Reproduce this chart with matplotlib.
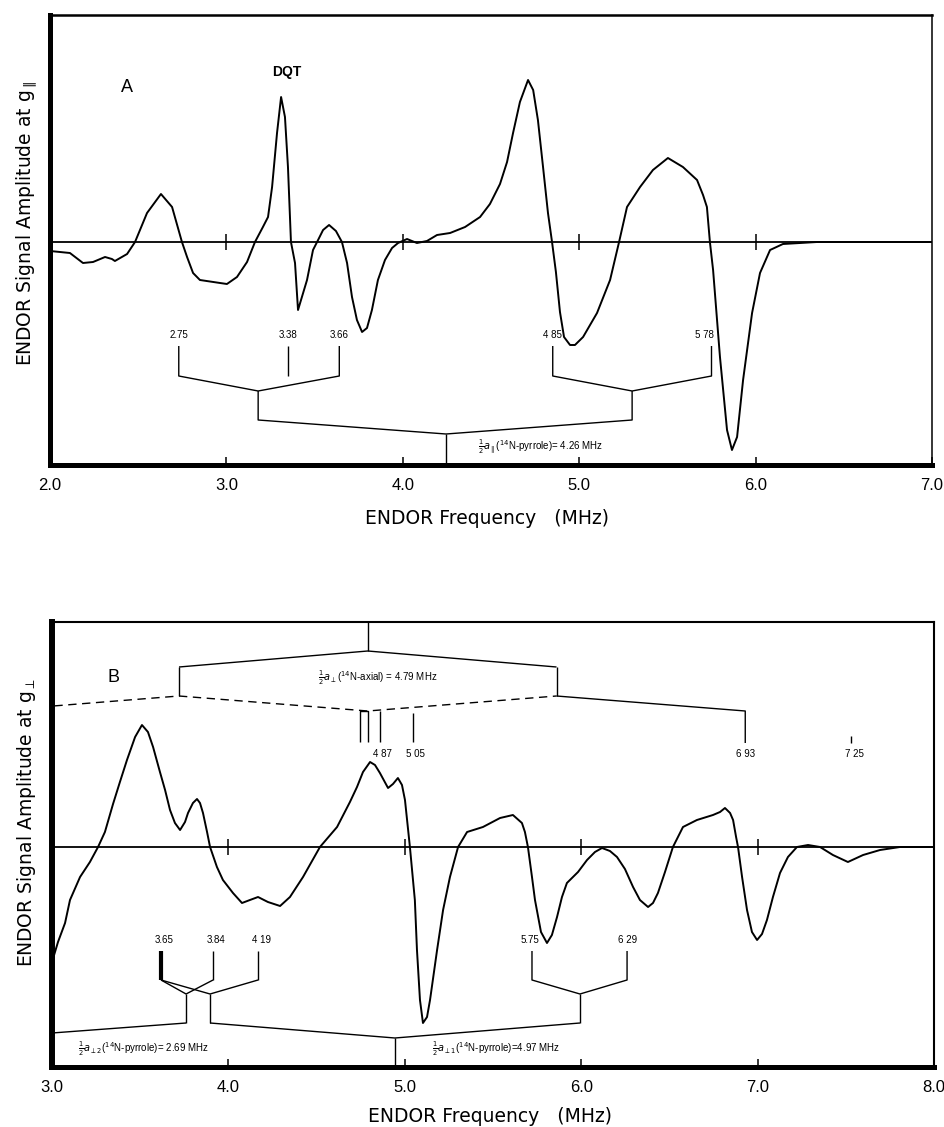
import matplotlib.pyplot as plt

plt.rcParams['font.family'] = ['Liberation Sans', 'DejaVu Sans']

# ---------------- Panel A : spectrum at g-parallel ----------------
freq_a = [2.000, 2.113, 2.187, 2.244, 2.312, 2.351, 2.368, 2.437, 2.482, 2.550,
          2.629, 2.692, 2.748, 2.777, 2.811, 2.850, 2.964, 3.003, 3.060, 3.117,
          3.162, 3.207, 3.236, 3.259, 3.287, 3.310, 3.332, 3.349, 3.366, 3.389,
          3.406, 3.457, 3.491, 3.514, 3.548, 3.582, 3.621, 3.655, 3.684, 3.712,
          3.740, 3.769, 3.797, 3.825, 3.859, 3.899, 3.939, 3.973, 4.024, 4.080,
          4.137, 4.194, 4.268, 4.353, 4.438, 4.494, 4.551, 4.591, 4.625, 4.664,
          4.710, 4.739, 4.766, 4.795, 4.823, 4.846, 4.868, 4.891, 4.914, 4.948,
          4.976, 5.022, 5.101, 5.175, 5.226, 5.271, 5.345, 5.418, 5.503, 5.588,
          5.668, 5.702, 5.724, 5.741, 5.759, 5.798, 5.838, 5.866, 5.895, 5.929,
          5.980, 6.025, 6.082, 6.155, 6.252, 6.348, 7.000]
amp_a = [-9, -11, -21, -20, -15, -17, -19, -12, 0, 29,
         48, 35, 0, -15, -31, -38, -41, -42, -35, -20,
         0, 15, 25, 55, 109, 145, 125, 75, 0, -21,
         -68, -38, -8, 0, 12, 17, 11, 0, -21, -55,
         -78, -90, -86, -68, -38, -18, -6, -1, 3, -1,
         1, 7, 9, 15, 25, 38, 58, 80, 109, 140,
         162, 152, 122, 75, 29, 0, -30, -70, -95, -103,
         -103, -95, -71, -38, 0, 35, 55, 72, 84, 75,
         62, 47, 35, 0, -28, -115, -188, -208, -195, -138,
         -71, -31, -8, -2, -1, 0, 0]

# 14N-pyrrole lines (MHz) and how they pair up
a_pairs = [(2.73, 3.64), (4.85, 5.75)]
a_nodes = [3.18, 5.30]
a_single = 3.35
a_centre = 4.245
a_labels = [(2.73, '2.75'), (3.35, '3.38'), (3.64, '3.66'), (4.85, '4 85'), (5.71, '5 78')]

# ---------------- Panel B : spectrum at g-perpendicular ----------------
freq_b = [3.000, 3.034, 3.074, 3.102, 3.159, 3.215, 3.261, 3.300, 3.346, 3.385,
          3.425, 3.471, 3.510, 3.544, 3.573, 3.612, 3.641, 3.669, 3.697, 3.726,
          3.754, 3.771, 3.799, 3.822, 3.839, 3.856, 3.879, 3.896, 3.935, 3.969,
          4.026, 4.077, 4.122, 4.168, 4.224, 4.293, 4.349, 4.423, 4.519, 4.616,
          4.689, 4.729, 4.763, 4.803, 4.831, 4.859, 4.905, 4.933, 4.961, 4.984,
          5.001, 5.029, 5.057, 5.069, 5.086, 5.103, 5.126, 5.143, 5.183, 5.217,
          5.256, 5.302, 5.353, 5.443, 5.540, 5.613, 5.664, 5.681, 5.698, 5.721,
          5.738, 5.772, 5.806, 5.834, 5.863, 5.891, 5.919, 5.982, 6.033, 6.078,
          6.118, 6.163, 6.203, 6.248, 6.294, 6.333, 6.379, 6.407, 6.435, 6.475,
          6.520, 6.577, 6.656, 6.747, 6.787, 6.815, 6.844, 6.861, 6.878, 6.889,
          6.912, 6.940, 6.968, 6.997, 7.025, 7.053, 7.087, 7.127, 7.172, 7.223,
          7.286, 7.354, 7.427, 7.512, 7.598, 7.694, 7.807, 8.000]
amp_b = [-115, -95, -76, -53, -30, -15, 0, 15, 43, 65,
         87, 110, 122, 115, 100, 75, 57, 37, 24, 17,
         25, 34, 44, 48, 44, 34, 15, 0, -20, -33,
         -46, -56, -53, -50, -55, -59, -50, -30, 0, 20,
         45, 60, 75, 85, 82, 74, 59, 63, 69, 62,
         47, 0, -53, -103, -153, -176, -170, -153, -103, -63,
         -30, 0, 15, 20, 29, 32, 24, 15, 0, -30,
         -53, -85, -96, -88, -70, -50, -36, -25, -13, -5,
         -1, -4, -10, -22, -40, -53, -60, -56, -46, -25,
         0, 20, 27, 32, 35, 39, 34, 27, 10, 0,
         -30, -63, -85, -93, -87, -73, -50, -26, -10, 0,
         2, 0, -8, -15, -8, -3, 0, 0]

# 14N-axial pattern
b_ax_centre = 4.79
b_ax_nodes = [3.72, 5.86]
b_ax_outer = [2.65, 4.79, 6.93]
b_ax_sticks = [4.746, 4.791, 4.859, 5.046]
b_ax_far = 7.53
b_ax_labels = [(4.876, '4 87'), (5.058, '5 05'), (6.93, '6 93'), (7.55, '7 25')]

# 14N-pyrrole pattern
b_py_lines = [3.618, 3.913, 4.168, 5.721, 6.260]
b_py_nodes = [3.760, 3.896, 5.993]
b_py_centre = 4.944
b_py_labels = [(3.635, '3.65'), (3.930, '3.84'), (4.185, '4 19'), (5.710, '5.75'), (6.260, '6 29')]

W, H = 945, 1127
fig = plt.figure(figsize=(W / 100, H / 100), dpi=100)


def px_axes(left, top, right, bottom):
    return fig.add_axes([left / W, 1 - bottom / H, (right - left) / W, (bottom - top) / H])


def frame(ax, lws, xlim, ylim, ticks, base_ticks):
    for side, lw in zip(['left', 'bottom', 'top', 'right'], lws):
        ax.spines[side].set_linewidth(lw)
    ax.set_xlim(*xlim)
    ax.set_ylim(*ylim)
    ax.set_yticks([])
    ax.set_xticks(ticks)
    ax.set_xticklabels(['%.1f' % t for t in ticks], fontsize=12)
    ax.tick_params(axis='x', direction='in', length=6, width=1.1, pad=9)
    ax.axhline(0, color='k', lw=1.3)
    ax.plot(base_ticks, [0] * len(base_ticks), ls='none', marker='|', ms=11, mew=1.1, color='k')


def seg(ax, xs, ys, **kw):
    kw.setdefault('lw', 1.0)
    ax.plot(xs, ys, color='k', solid_capstyle='butt', **kw)


small = dict(fontsize=7, ha='center', va='center')

# ---------------- draw panel A ----------------
axA = px_axes(50, 15, 932, 465)
frame(axA, [3.6, 3.6, 1.8, 1.1], (2, 7), (-223, 227), [2, 3, 4, 5, 6, 7], [3, 4, 5, 6])
axA.plot(freq_a, amp_a, color='k', lw=1.4)

top, bot, node, drop, centre = -104, -134, -149, -178, -192
for (lo, hi), nd in zip(a_pairs, a_nodes):
    seg(axA, [lo, lo, nd, hi, hi], [top, bot, node, bot, top])
    seg(axA, [nd, nd, a_centre], [node, drop, centre])
seg(axA, [a_single, a_single], [top, bot])
seg(axA, [a_centre, a_centre], [centre, -223])
for x, s in a_labels:
    axA.text(x, -93, s, **small)
axA.text(4.426, -205, r'$\frac{1}{2}a_{\parallel}$($^{14}$N-pyrrole)= 4.26 MHz',
         fontsize=7, ha='left', va='center')
axA.text(3.343, 170, 'DQT', fontsize=10, fontweight='bold', ha='center', va='center')
axA.text(2.437, 155, 'A', fontsize=13, ha='center', va='center')

# ---------------- draw panel B ----------------
axB = px_axes(52, 622, 934, 1067)
frame(axB, [4.3, 3.6, 1.5, 1.5], (3, 8), (-220, 225), [3, 4, 5, 6, 7, 8], [4, 5, 6, 7])
axB.plot(freq_b, amp_b, color='k', lw=1.4)

# axial splitting (top)
n_top, n_bot, s_top, s_bot = 180, 151, 136, 105
seg(axB, [b_ax_centre, b_ax_centre], [225, 196])
seg(axB, [b_ax_nodes[0], b_ax_centre, b_ax_nodes[1]], [n_top, 196, n_top])
for nd in b_ax_nodes:
    seg(axB, [nd, nd], [n_top, n_bot])
seg(axB, [b_ax_outer[0], b_ax_nodes[0], b_ax_outer[1], b_ax_nodes[1]],
    [s_top, n_bot, s_top, n_bot], ls=(0, (6, 4)))
seg(axB, [b_ax_nodes[1], b_ax_outer[2], b_ax_outer[2]], [n_bot, s_top, 104])
seg(axB, [b_ax_sticks[0], b_ax_sticks[0], b_ax_sticks[1], b_ax_sticks[1]],
    [s_bot, s_top, s_top, s_bot])
seg(axB, [b_ax_sticks[2], b_ax_sticks[2]], [s_top, s_bot])
seg(axB, [b_ax_sticks[3], b_ax_sticks[3]], [134, s_bot])
seg(axB, [b_ax_far, b_ax_far], [111, 104])
for x, s in b_ax_labels:
    axB.text(x, 93, s, **small)
axB.text(4.848, 169, r'$\frac{1}{2}a_{\perp}$($^{14}$N-axial) = 4.79 MHz',
         fontsize=7, ha='center', va='center')
axB.text(3.346, 170, 'B', fontsize=13, ha='center', va='center')

# pyrrole splitting (bottom)
top, bot, node, drop, centre = -104, -133, -147, -176, -191
p = b_py_lines
seg(axB, [p[0], p[0]], [top, bot], lw=3)
seg(axB, [p[1], p[1]], [top, bot])
seg(axB, [p[2], p[2]], [top, bot])
seg(axB, [p[0], b_py_nodes[0], p[1]], [bot, node, bot])
seg(axB, [p[0], b_py_nodes[1], p[2]], [bot, node, bot])
seg(axB, [p[3], p[3], b_py_nodes[2], p[4], p[4]], [top, bot, node, bot, top])
for nd in b_py_nodes:
    seg(axB, [nd, nd], [node, drop])
seg(axB, [3.0, b_py_nodes[0]], [-186, drop])
seg(axB, [b_py_nodes[1], b_py_centre, b_py_nodes[2]], [drop, centre, drop])
seg(axB, [b_py_centre, b_py_centre], [centre, -220])
for x, s in b_py_labels:
    axB.text(x, -93, s, **small)
axB.text(3.147, -202, r'$\frac{1}{2}a_{\perp2}$($^{14}$N-pyrrole)= 2.69 MHz',
         fontsize=7, ha='left', va='center')
axB.text(5.154, -202, r'$\frac{1}{2}a_{\perp1}$($^{14}$N-pyrrole)=4.97 MHz',
         fontsize=7, ha='left', va='center')

# axis titles
lab = dict(family='DejaVu Sans', fontsize=13.5, ha='center', va='center')
fig.text(27 / W, 1 - 223 / H, r'ENDOR Signal Amplitude at g$_{\parallel}$', rotation=90, **lab)
fig.text(27 / W, 1 - 822 / H, r'ENDOR Signal Amplitude at g$_{\perp}$', rotation=90, **lab)
fig.text(487 / W, 1 - 519 / H, 'ENDOR Frequency   (MHz)', **lab)
fig.text(490 / W, 1 - 1116 / H, 'ENDOR Frequency   (MHz)', **lab)

fig.savefig('out.png', dpi=100)
